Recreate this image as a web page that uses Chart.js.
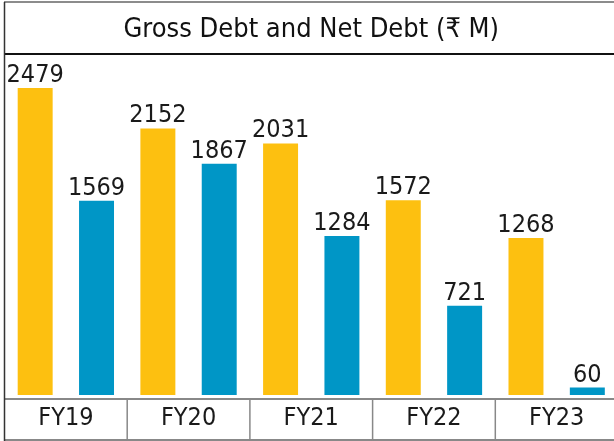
<!DOCTYPE html>
<html>
<head>
<meta charset="utf-8">
<script src="https://cdn.jsdelivr.net/npm/chart.js@4.4.0/dist/chart.umd.min.js"></script>
<style>
  html, body { margin: 0; padding: 0; background: #fff; overflow: hidden; }
  #wrap { position: relative; width: 618px; height: 441px; }
</style>
</head>
<body>
<div id="wrap"><canvas id="myChart"></canvas></div>
<script>
// data block
const years = ["FY19", "FY20", "FY21", "FY22", "FY23"];
const grossDebt = [2479, 2152, 2031, 1572, 1268];
const netDebt = [1569, 1867, 1284, 721, 60];
const chartTitle = "Gross Debt and Net Debt (₹ M)";

const narrowFont = "'DejaVu Sans Condensed', 'Liberation Sans', sans-serif";

// plugin - value labels above the bars
const valueLabels = {
  id: "valueLabels",
  afterDatasetsDraw(chart) {
    const ctx = chart.ctx;
    ctx.save();
    ctx.font = "25px " + narrowFont;
    ctx.fillStyle = "#1a1a1a";
    ctx.textAlign = "center";
    ctx.textBaseline = "alphabetic";
    chart.data.datasets.forEach((ds, i) => {
      chart.getDatasetMeta(i).data.forEach((bar, j) => {
        ctx.fillText(String(ds.data[j]), bar.x, bar.y - 6);
      });
    });
    ctx.restore();
  },
};

// plugin - box lines around title and category row
const frameLines = {
  id: "frameLines",
  afterDraw(chart) {
    const ctx = chart.ctx;
    const area = chart.chartArea;
    const w = chart.width;
    const h = chart.height;
    const axisY = area.bottom + 4;
    const step = (area.right - area.left) / years.length;
    ctx.save();
    const line = (x1, y1, x2, y2, color, width) => {
      ctx.beginPath();
      ctx.strokeStyle = color;
      ctx.lineWidth = width;
      ctx.moveTo(x1, y1);
      ctx.lineTo(x2, y2);
      ctx.stroke();
    };
    line(4, 2, w, 2, "#666", 1.5);
    line(4, 54, w, 54, "#111", 2);
    line(4, axisY, w, axisY, "#888", 2);
    line(4, h - 1, w, h - 1, "#888", 2);
    for (let i = 1; i < years.length; i++) {
      const x = area.left + i * step;
      line(x, axisY, x, h, "#888", 1.5);
    }
    line(4.5, 2, 4.5, h, "#333", 1.5);
    ctx.restore();
  },
};

// config block
const config = {
  type: "bar",
  data: {
    labels: years,
    datasets: [
      {
        label: "Gross Debt",
        data: grossDebt,
        backgroundColor: "#FDC010",
        borderWidth: 0,
        categoryPercentage: 1.0,
        barPercentage: 0.57,
      },
      {
        label: "Net Debt",
        data: netDebt,
        backgroundColor: "#0096C6",
        borderWidth: 0,
        categoryPercentage: 1.0,
        barPercentage: 0.57,
      },
    ],
  },
  options: {
    responsive: true,
    maintainAspectRatio: false,
    animation: false,
    layout: { padding: { left: 4.5, right: 0, top: 0, bottom: 0 } },
    plugins: {
      legend: { display: false },
      tooltip: { enabled: false },
      title: {
        display: true,
        text: chartTitle,
        color: "#111",
        font: { family: "'DejaVu Sans Condensed', 'Noto Sans', sans-serif", size: 27, weight: "normal" },
        padding: { top: 13.5, bottom: 9.1 },
      },
    },
    scales: {
      x: {
        grid: { display: false, drawTicks: false },
        border: { display: false },
        ticks: {
          color: "#1a1a1a",
          padding: 8.5,
          font: { family: narrowFont, size: 25 },
        },
        afterFit: (scale) => {
          scale.height = 46;
        },
      },
      y: {
        display: false,
        min: 0,
        max: 2745,
      },
    },
  },
  plugins: [valueLabels, frameLines],
};

// render init block
const myChart = new Chart(document.getElementById("myChart"), config);
</script>
</body>
</html>
